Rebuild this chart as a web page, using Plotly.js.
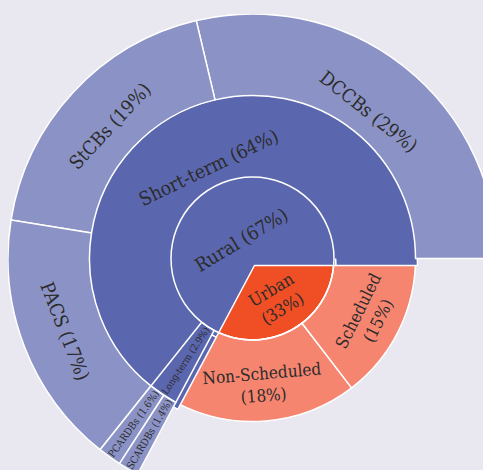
<!DOCTYPE html>
<html>
<head>
<meta charset="utf-8">
<script src="https://cdn.plot.ly/plotly-3.0.1.min.js"></script>
<style>
  html, body { margin: 0; padding: 0; width: 483px; height: 470px; overflow: hidden; background: #e9e7ef; }
  #chart { position: absolute; left: 7.5px; top: 13.5px; }
</style>
</head>
<body>
<div id="chart"></div>
<script>
// Cooperative credit structure: share of each segment (percent of total)
const nodes   = ['Rural', 'Urban', 'Short-term', 'Long-term', 'DCCBs', 'StCBs', 'PACS', 'PCARDBs', 'SCARDBs', 'Scheduled', 'Non-Scheduled'];
const parents = ['', '', 'Rural', 'Rural', 'Short-term', 'Short-term', 'Short-term', 'Long-term', 'Long-term', 'Urban', 'Urban'];
// leaf shares; branch totals are summed from their children
const leafShares = {
  'DCCBs': 28.7, 'StCBs': 18.8, 'PACS': 16.8,
  'PCARDBs': 1.56, 'SCARDBs': 1.36,
  'Scheduled': 14.6, 'Non-Scheduled': 18.2
};
// labels that put their percentage on a second line
const twoLineLabels = ['Urban', 'Scheduled', 'Non-Scheduled'];

const palette = {
  ruralBranch: 'rgb(90,102,174)',
  ruralLeaf: 'rgb(139,147,198)',
  urbanBranch: 'rgb(240,78,36)',
  urbanLeaf: 'rgb(246,133,112)'
};
const CLEAR = 'rgba(0,0,0,0)';
const EDGE = '#ffffff';
const FAMILY = '"DejaVu Serif Condensed", "DejaVu Serif", serif';
const RURAL_FONT = { family: FAMILY, size: 19, color: '#2b2b2b' };
const URBAN_FONT = { family: FAMILY, size: 17, color: '#2b2b2b' };
const SIZE = 489;             // diameter of the sunburst, px
const SHIFT = { x: 2, y: 7 }; // the Rural branches overhang the Urban group by this offset
const W = SIZE + SHIFT.x;
const H = SIZE + SHIFT.y;

// value of every node = own share (leaves) or sum of descendants
function nodeValue(name) {
  if (name in leafShares) return leafShares[name];
  let s = 0;
  nodes.forEach((n, i) => { if (parents[i] === name) s += nodeValue(n); });
  return s;
}
function rootOf(name) {
  let n = name;
  let i = nodes.indexOf(n);
  while (i >= 0 && parents[i] !== '') { n = parents[i]; i = nodes.indexOf(n); }
  return n;
}
const isRural = n => rootOf(n) === 'Rural';
const isLeaf = n => n in leafShares;

const values = nodes.map(nodeValue);
const total = nodes.filter((n, i) => parents[i] === '').reduce((a, n) => a + nodeValue(n), 0);

const texts = nodes.map((n, i) => {
  const pct = (values[i] / total * 100).toPrecision(2) + '%';
  return twoLineLabels.includes(n) ? n + '<br>(' + pct + ')' : n + ' (' + pct + ')';
});
const colors = nodes.map(n => {
  if (isRural(n)) return isLeaf(n) ? palette.ruralLeaf : palette.ruralBranch;
  return isLeaf(n) ? palette.urbanLeaf : palette.urbanBranch;
});

// one sunburst layer over a subset of the hierarchy
//   fill(n): draw the slice fill, edge(n): draw its white outline, label(n): draw its text
function layer(opts) {
  const keep = opts.keep || (() => true);
  const idx = nodes.map((n, i) => i).filter(i => keep(nodes[i]));
  return {
    type: 'sunburst',
    ids: idx.map(i => nodes[i]),
    labels: idx.map(i => nodes[i]),
    parents: idx.map(i => keep(parents[i]) ? parents[i] : ''),
    values: idx.map(i => values[i]),
    branchvalues: 'total',
    text: idx.map(i => opts.label(nodes[i]) ? texts[i] : ''),
    textinfo: 'text',
    insidetextorientation: opts.orientation || 'auto',
    leaf: { opacity: 1 },
    marker: {
      colors: idx.map(i => opts.fill(nodes[i]) ? colors[i] : CLEAR),
      line: {
        color: idx.map(i => opts.edge(nodes[i]) ? EDGE : CLEAR),
        width: idx.map(i => opts.edge(nodes[i]) ? 1.5 : 0)
      }
    },
    textfont: opts.font || RURAL_FONT,
    hoverinfo: 'none',
    domain: opts.domain
  };
}

const home = { x: [0, SIZE / W], y: [SHIFT.y / H, 1] };
const offset = { x: [SHIFT.x / W, 1], y: [0, SIZE / H] };
const none = () => false;

const traces = [
  // Urban group
  layer({ fill: n => !isRural(n), edge: n => !isRural(n), label: n => !isRural(n),
          orientation: 'tangential', font: URBAN_FONT, domain: home }),
  // Rural branches, offset so they overhang the top of the Urban group
  layer({ fill: n => isRural(n) && !isLeaf(n), edge: n => isRural(n) && !isLeaf(n),
          label: none, domain: offset }),
  // Rural group
  layer({ fill: isRural, edge: n => isRural(n) && n !== 'Rural' && n !== 'Short-term',
          label: isRural, domain: home }),
  // outline of the Rural centre
  layer({ keep: isRural, fill: none, edge: n => n === 'Rural', label: none, domain: home })
];

const layout = {
  width: W,
  height: H,
  margin: { l: 0, r: 0, t: 0, b: 0 },
  paper_bgcolor: '#e9e7ef',
  plot_bgcolor: '#e9e7ef',
  showlegend: false
};

Plotly.newPlot('chart', traces, layout, { displayModeBar: false, staticPlot: true });
</script>
</body>
</html>
